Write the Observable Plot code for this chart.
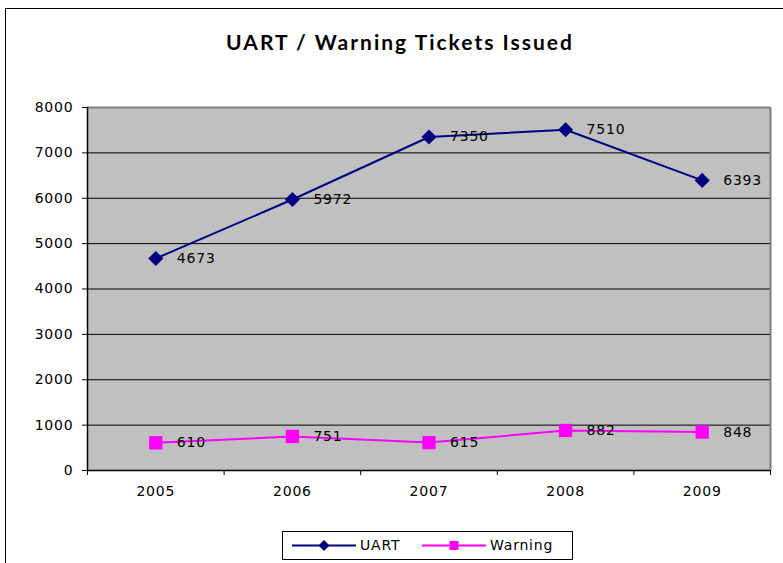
<!DOCTYPE html>
<html><head><meta charset="utf-8">
<script src="https://cdn.jsdelivr.net/npm/d3@7"></script>
<script src="https://cdn.jsdelivr.net/npm/@observablehq/plot@0.6"></script>
<style>
body{margin:0;background:#fff;}
#wrap{position:relative;width:783px;height:563px;overflow:hidden;font-family:"DejaVu Sans",sans-serif;background:#fff;}
#border{position:absolute;left:5px;top:8px;width:820px;height:620px;border:1.5px solid #000;}
#title{position:absolute;left:0;width:800px;top:30px;text-align:center;font-family:Lato,sans-serif;font-weight:bold;font-size:21px;letter-spacing:2px;line-height:24px;color:#000;}
#chart{position:absolute;left:0;top:80px;}
#legend{position:absolute;left:282px;top:531px;width:289px;height:27px;border:1px solid #000;background:#fff;}
#legend svg{position:absolute;left:0;top:0;}
</style>
</head><body>
<div id="wrap">
  <div id="border"></div>
  <div id="title">UART / Warning Tickets Issued</div>
  <div id="chart"></div>
  <div id="legend"></div>
</div>
<script>
const years = ["2005", "2006", "2007", "2008", "2009"];
const uart = [4673, 5972, 7350, 7510, 6393];
const warning = [610, 751, 615, 882, 848];
const yTicks = [0, 1000, 2000, 3000, 4000, 5000, 6000, 7000, 8000];
const seriesNames = ["UART", "Warning"];
const seriesColors = ["#000080", "#FF00FF"];

const rowsU = years.map((y, i) => ({i, year: y, v: uart[i], series: "UART"}));
const rowsW = years.map((y, i) => ({i, year: y, v: warning[i], series: "Warning"}));
const centers = years.map((_, i) => i);
const bounds = years.map((_, i) => i - 0.5).concat([years.length - 0.5]);
const xDomain = [-0.5, years.length - 0.5];

const plot = Plot.plot({
  width: 783,
  height: 420,
  marginLeft: 87,
  marginRight: 13,
  marginTop: 27,
  marginBottom: 30,
  style: {fontFamily: "DejaVu Sans, sans-serif", fontSize: "14px", letterSpacing: "0.8px", color: "#000", background: "transparent", overflow: "visible"},
  x: {type: "linear", domain: xDomain},
  y: {domain: [0, 8000]},
  color: {domain: seriesNames, range: seriesColors},
  marks: [
    Plot.frame({fill: "#C0C0C0", stroke: "none"}),
    Plot.ruleY(yTicks.slice(1, -1), {stroke: "#000", strokeWidth: 1}),
    Plot.ruleY([yTicks[yTicks.length - 1]], {stroke: "#808080", strokeWidth: 2}),
    Plot.ruleX([xDomain[1]], {stroke: "#808080", strokeWidth: 2}),
    Plot.ruleX([xDomain[0]], {stroke: "#000", strokeWidth: 1.5}),
    Plot.ruleY([0], {stroke: "#000", strokeWidth: 1.5}),
    Plot.line(rowsU, {x: "i", y: "v", stroke: "series", strokeWidth: 2}),
    Plot.line(rowsW, {x: "i", y: "v", stroke: "series", strokeWidth: 2}),
    Plot.dot(rowsU, {x: "i", y: "v", symbol: "diamond2", r: 6.8, fill: seriesColors[0], stroke: "none"}),
    Plot.dot(rowsW, {x: "i", y: "v", symbol: "square", r: 7.5, fill: seriesColors[1], stroke: "none"}),
    Plot.text(rowsU.concat(rowsW), {x: "i", y: "v", text: d => String(d.v), dx: 21, textAnchor: "start", fill: "#000", fontSize: 14}),
    Plot.axisY({ticks: yTicks, tickSize: 5, tickPadding: 9, label: null, tickFormat: d => String(d)}),
    Plot.axisX({ticks: centers, tickFormat: i => years[i], tickSize: 0, tickPadding: 16, label: null}),
    Plot.axisX({ticks: bounds, tickFormat: () => "", tickSize: 5, label: null})
  ]
});
document.getElementById("chart").appendChild(plot);

// legend
const legend = document.getElementById("legend");
const ns = "http://www.w3.org/2000/svg";
const lsvg = document.createElementNS(ns, "svg");
lsvg.setAttribute("width", 289); lsvg.setAttribute("height", 27);
const items = [
  {name: seriesNames[0], color: seriesColors[0], x0: 9, x1: 73, tx: 77, sym: "diamond"},
  {name: seriesNames[1], color: seriesColors[1], x0: 139, x1: 203, tx: 207, sym: "square"}
];
for (const it of items) {
  const ln = document.createElementNS(ns, "line");
  ln.setAttribute("x1", it.x0); ln.setAttribute("x2", it.x1);
  ln.setAttribute("y1", 13.5); ln.setAttribute("y2", 13.5);
  ln.setAttribute("stroke", it.color); ln.setAttribute("stroke-width", 2);
  lsvg.appendChild(ln);
  const cx = (it.x0 + it.x1) / 2;
  if (it.sym === "diamond") {
    const p = document.createElementNS(ns, "path");
    p.setAttribute("d", `M${cx},${13.5-5.5}L${cx+5.5},13.5L${cx},${13.5+5.5}L${cx-5.5},13.5Z`);
    p.setAttribute("fill", it.color);
    lsvg.appendChild(p);
  } else {
    const r = document.createElementNS(ns, "rect");
    r.setAttribute("x", cx - 4.5); r.setAttribute("y", 9); r.setAttribute("width", 9); r.setAttribute("height", 9);
    r.setAttribute("fill", it.color);
    lsvg.appendChild(r);
  }
  const t = document.createElementNS(ns, "text");
  t.setAttribute("x", it.tx); t.setAttribute("y", 13.5);
  t.setAttribute("dy", "0.35em");
  t.setAttribute("font-family", "DejaVu Sans, sans-serif");
  t.setAttribute("font-size", 14);
  t.setAttribute("letter-spacing", "0.8px");
  t.textContent = it.name;
  lsvg.appendChild(t);
}
legend.appendChild(lsvg);
</script>
</body></html>
